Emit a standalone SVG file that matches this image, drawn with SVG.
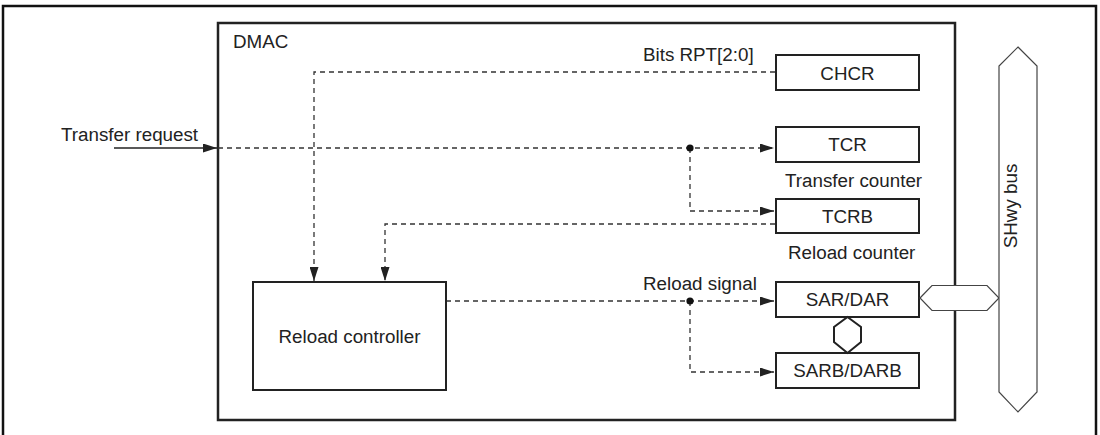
<svg xmlns="http://www.w3.org/2000/svg" width="1100" height="435" viewBox="0 0 1100 435">
  <style>
    text { font-family: "Liberation Sans", Arial, sans-serif; font-size: 18.8px; fill: #222; }
    .box { fill: #fff; stroke: #222; stroke-width: 2; }
    .dash { fill: none; stroke: #333; stroke-width: 1.3; stroke-dasharray: 5 4; }
    .bus { fill: #fff; stroke: #444; stroke-width: 1.2; }
    .mid { text-anchor: middle; }
  </style>
  <defs>
    <marker id="arr" markerUnits="userSpaceOnUse" markerWidth="15" markerHeight="9" refX="14" refY="4.5" orient="auto">
      <path d="M0,0 L14,4.5 L0,9 z" fill="#222"/>
    </marker>
  </defs>

  <g id="frame">
    <path d="M3,440 V6 H1096 V440" fill="none" stroke="#111" stroke-width="2.5"/>
  </g>

  <g id="dmac">
    <rect x="218" y="23" width="737" height="397" fill="none" stroke="#222" stroke-width="2.5"/>
    <text x="233" y="48">DMAC</text>
  </g>

  <g id="connectors">
    <line x1="114" y1="148" x2="217" y2="148" stroke="#222" stroke-width="1.5" marker-end="url(#arr)"/>
    <path class="dash" d="M218,148 H774" marker-end="url(#arr)"/>
    <path class="dash" d="M690,148 V211 H774" marker-end="url(#arr)"/>
    <path class="dash" d="M775,72 H314 V281" marker-end="url(#arr)"/>
    <path class="dash" d="M775,224 H385 V281" marker-end="url(#arr)"/>
    <path class="dash" d="M446,301 H774" marker-end="url(#arr)"/>
    <path class="dash" d="M690,301 V372 H774" marker-end="url(#arr)"/>
    <circle cx="690" cy="148" r="3.6" fill="#111"/>
    <circle cx="690" cy="301" r="3.6" fill="#111"/>
  </g>

  <g id="transfer-request">
    <text x="61" y="141">Transfer request</text>
  </g>
  <g id="bits-rpt">
    <text x="643" y="61">Bits RPT[2:0]</text>
  </g>
  <g id="reload-signal">
    <text x="643" y="290">Reload signal</text>
  </g>

  <g id="chcr">
    <rect class="box" x="776" y="55" width="143" height="35"/>
    <text class="mid" x="847.5" y="80">CHCR</text>
  </g>
  <g id="tcr">
    <rect class="box" x="776" y="127" width="143" height="35"/>
    <text class="mid" x="847.5" y="151">TCR</text>
    <text x="785" y="187">Transfer counter</text>
  </g>
  <g id="tcrb">
    <rect class="box" x="776" y="199" width="143" height="34"/>
    <text class="mid" x="847.5" y="223">TCRB</text>
    <text x="788" y="259">Reload counter</text>
  </g>
  <g id="sar-dar">
    <rect class="box" x="776" y="282" width="143" height="35"/>
    <text class="mid" x="847.5" y="306">SAR/DAR</text>
  </g>
  <g id="sarb-darb">
    <rect class="box" x="776" y="353" width="143" height="35"/>
    <text class="mid" x="847.5" y="377">SARB/DARB</text>
  </g>
  <g id="internal-link">
    <polygon points="847.5,317 861,327 861,342 847.5,353 834,342 834,327" fill="#fff" stroke="#222" stroke-width="2"/>
  </g>

  <g id="reload-controller">
    <rect class="box" x="253" y="282" width="193" height="108"/>
    <text class="mid" x="349.5" y="343">Reload controller</text>
  </g>

  <g id="bus-link">
    <polygon class="bus" points="920,298 932,285.5 987,285.5 999,298 987,310.5 932,310.5"/>
  </g>

  <g id="shwy-bus">
    <polygon class="bus" points="1018,47 1037,66 1037,392 1018,412 999,392 999,66"/>
    <text class="mid" transform="translate(1017,206) rotate(-90)">SHwy bus</text>
  </g>
</svg>
